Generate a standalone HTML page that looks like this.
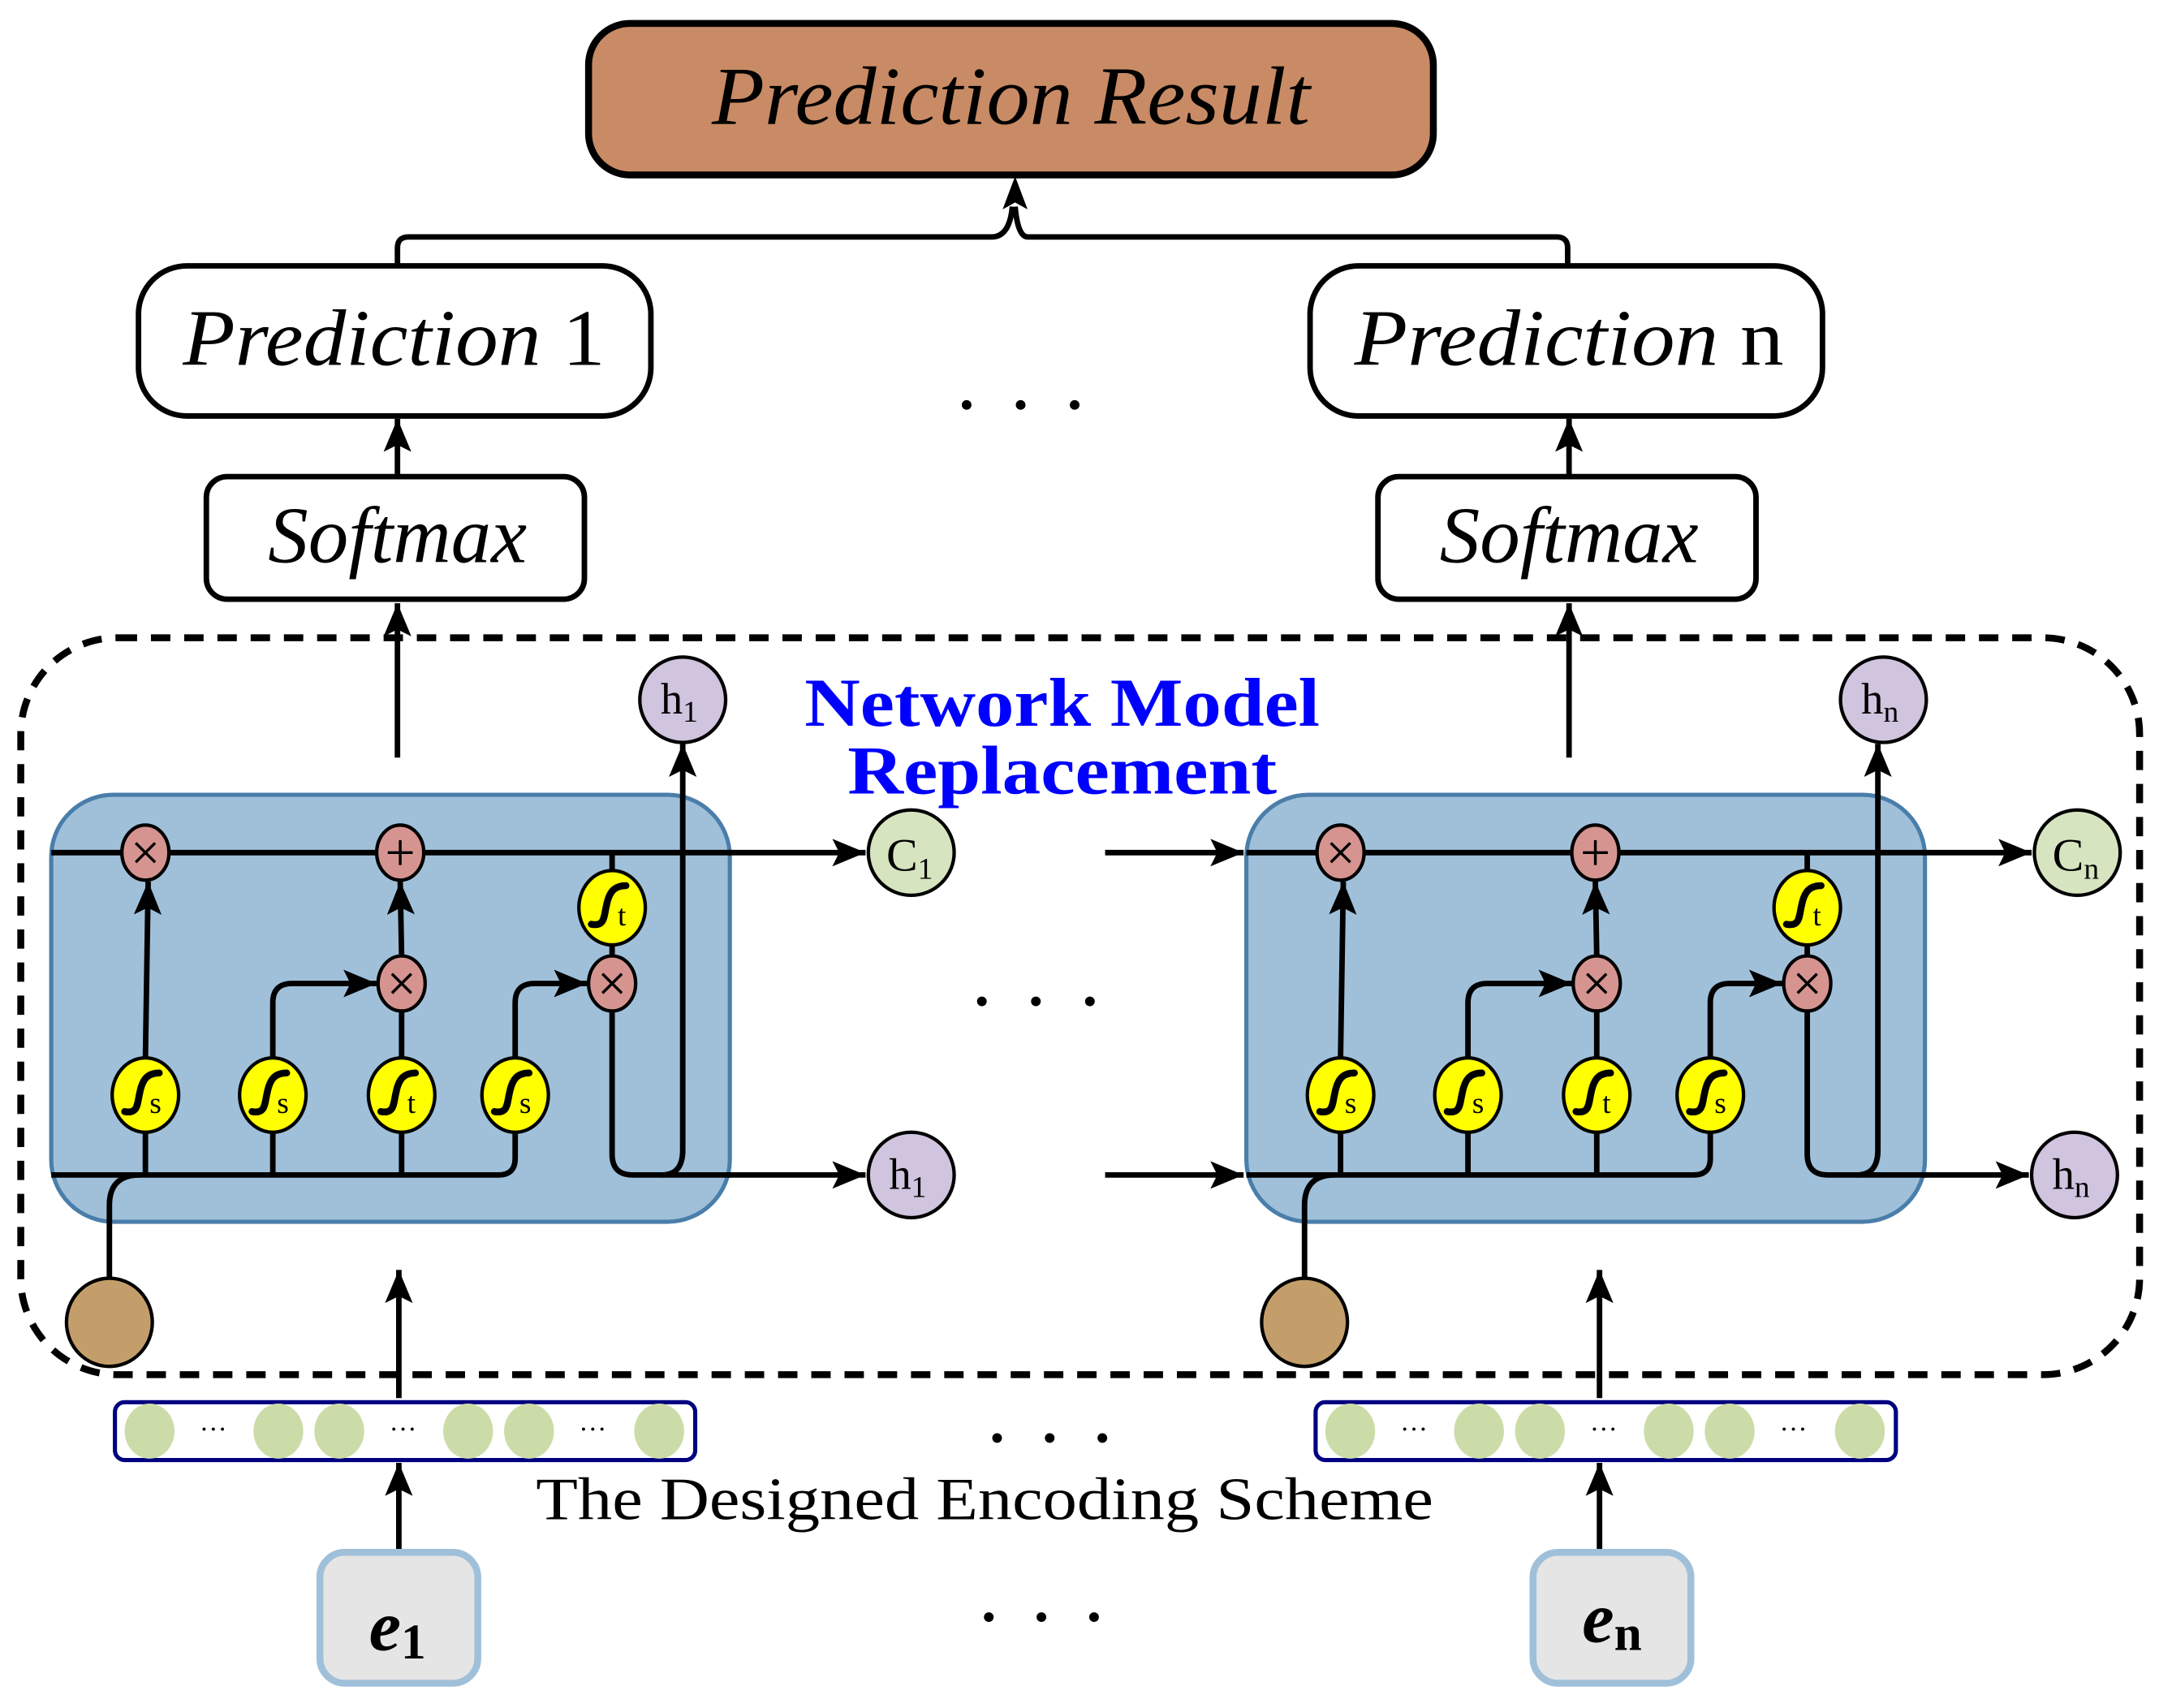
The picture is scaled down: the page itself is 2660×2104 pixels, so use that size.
<!DOCTYPE html>
<html><head><meta charset="utf-8"><style>
html,body{margin:0;padding:0;background:#fff;}
svg{display:block;}
text{font-family:"Liberation Serif",serif;}
</style></head><body>
<svg width="2660" height="2104" viewBox="0 0 1559 1240" preserveAspectRatio="none" xmlns="http://www.w3.org/2000/svg" font-family="Liberation Serif, serif">
<defs>
<marker id="ar" markerUnits="userSpaceOnUse" markerWidth="30" markerHeight="24" refX="24" refY="10" orient="auto">
<path d="M0,0 L24,10 L0,20 L5,10 Z" fill="#000"/>
</marker>
<g id="sig">
<ellipse cx="0" cy="0" rx="24" ry="27" fill="#ffff00" stroke="#000" stroke-width="2.5"/>
<path d="M-15,12 C-5,14 -6,6 -4,-2 C-2,-12 2,-16 10,-16" fill="none" stroke="#000" stroke-width="5" stroke-linecap="round"/>
</g>
<g id="mul">
<ellipse cx="0" cy="0" rx="17" ry="20" fill="#d69490" stroke="#000" stroke-width="2.5"/>
<path d="M-7,-7 L7,7 M7,-7 L-7,7" stroke="#000" stroke-width="2"/>
</g>
<g id="cell">
<rect x="37" y="577" width="490" height="310" rx="45" fill="#a0c0da" stroke="#4a7eaa" stroke-width="3"/>
<g fill="none" stroke="#000" stroke-width="4">
<path d="M37,619 H528"/>
<path d="M37,853 H360 Q372,853 372,841 V820"/>
<path d="M79,930 V875 Q79,853 101,853"/>
<path d="M105,853 V770"/><path d="M197,853 V770"/><path d="M290,853 V770"/>
<path d="M105,768 L107,640" marker-end="url(#ar)"/>
<path d="M290,768 V734"/>
<path d="M290,694 L289,640" marker-end="url(#ar)"/>
<path d="M197,768 V728 Q197,714 211,714 H272" marker-end="url(#ar)"/>
<path d="M372,768 V728 Q372,714 386,714 H424" marker-end="url(#ar)"/>
<path d="M442,619 V634"/><path d="M442,684 V696"/>
<path d="M442,734 V838 Q442,853 457,853 H528"/>
<path d="M478,853 Q493,853 493,835 V540" marker-end="url(#ar)"/>
</g>
<use href="#mul" x="105" y="619"/>
<ellipse cx="289" cy="619" rx="17" ry="20" fill="#d69490" stroke="#000" stroke-width="2.5"/>
<path d="M280,619 H298 M289,610 V628" stroke="#000" stroke-width="2"/>
<use href="#mul" x="290" y="714"/>
<use href="#mul" x="442" y="714"/>
<use href="#sig" x="105" y="795"/><text x="108" y="808" font-size="22">s</text>
<use href="#sig" x="197" y="795"/><text x="200" y="808" font-size="22">s</text>
<use href="#sig" x="290" y="795"/><text x="294" y="808" font-size="22">t</text>
<use href="#sig" x="372" y="795"/><text x="375" y="808" font-size="22">s</text>
<use href="#sig" x="442" y="659"/><text x="446" y="672" font-size="22">t</text>
<ellipse cx="79" cy="960" rx="31" ry="32" fill="#c49e6a" stroke="#000" stroke-width="2.5"/>
</g>
<g id="enc">
<path d="M288,1015 V922" stroke="#000" stroke-width="4" marker-end="url(#ar)"/>
<rect x="83" y="1018" width="419" height="42" rx="7" fill="#fff" stroke="#000080" stroke-width="3"/>
<g fill="#ccdca8">
<ellipse cx="108" cy="1039" rx="18" ry="20"/><ellipse cx="201" cy="1039" rx="18" ry="20"/>
<ellipse cx="245" cy="1039" rx="18" ry="20"/><ellipse cx="338" cy="1039" rx="18" ry="20"/>
<ellipse cx="382" cy="1039" rx="18" ry="20"/><ellipse cx="476" cy="1039" rx="18" ry="20"/>
</g>
<text x="154" y="1044" font-size="20" text-anchor="middle">···</text>
<text x="291" y="1044" font-size="20" text-anchor="middle">···</text>
<text x="428" y="1044" font-size="20" text-anchor="middle">···</text>
<path d="M288,1125 V1062" stroke="#000" stroke-width="4" marker-end="url(#ar)"/>
</g>
<g id="pred">
<path d="M287,550 V438" stroke="#000" stroke-width="4" marker-end="url(#ar)"/>
<rect x="149" y="346" width="273" height="89" rx="15" fill="#fff" stroke="#000" stroke-width="4"/>
<path d="M287,345 V304" stroke="#000" stroke-width="4" marker-end="url(#ar)"/>
<rect x="100" y="193" width="370" height="109" rx="35" fill="#fff" stroke="#000" stroke-width="4"/>
</g>
</defs>

<rect x="15" y="463" width="1530" height="535" rx="70" fill="none" stroke="#000" stroke-width="5" stroke-dasharray="14 10"/>

<use href="#cell"/>
<use href="#cell" x="863"/>
<use href="#enc"/>
<use href="#enc" x="867"/>
<use href="#pred"/>
<use href="#pred" x="846"/>

<rect x="231" y="1127" width="114" height="95" rx="18" fill="#e5e5e5" stroke="#a0c0da" stroke-width="5"/>
<rect x="1107" y="1127" width="114" height="95" rx="18" fill="#e5e5e5" stroke="#a0c0da" stroke-width="5"/>

<g stroke="#000" stroke-width="4">
<path d="M526,619 H625" marker-end="url(#ar)"/>
<path d="M526,853 H625" marker-end="url(#ar)"/>
<path d="M1389,619 H1467" marker-end="url(#ar)"/>
<path d="M1389,853 H1465" marker-end="url(#ar)"/>
<path d="M798,619 H898" marker-end="url(#ar)"/>
<path d="M798,853 H898" marker-end="url(#ar)"/>
</g>

<ellipse cx="658" cy="619" rx="31" ry="31" fill="#d6e4c0" stroke="#000" stroke-width="2.5"/>
<text x="640" y="632" font-size="34">C<tspan font-size="22" dy="6">1</tspan></text>
<ellipse cx="658" cy="853" rx="31" ry="31" fill="#d0c4de" stroke="#000" stroke-width="2.5"/>
<text x="642" y="863" font-size="32">h<tspan font-size="22" dy="6">1</tspan></text>
<ellipse cx="493" cy="508" rx="31" ry="31" fill="#d0c4de" stroke="#000" stroke-width="2.5"/>
<text x="477" y="518" font-size="32">h<tspan font-size="22" dy="6">1</tspan></text>

<ellipse cx="1500" cy="619" rx="31" ry="31" fill="#d6e4c0" stroke="#000" stroke-width="2.5"/>
<text x="1482" y="632" font-size="34">C<tspan font-size="22" dy="6">n</tspan></text>
<ellipse cx="1498" cy="853" rx="31" ry="31" fill="#d0c4de" stroke="#000" stroke-width="2.5"/>
<text x="1482" y="863" font-size="32">h<tspan font-size="22" dy="6">n</tspan></text>
<ellipse cx="1360" cy="508" rx="31" ry="31" fill="#d0c4de" stroke="#000" stroke-width="2.5"/>
<text x="1344" y="518" font-size="32">h<tspan font-size="22" dy="6">n</tspan></text>

<text x="287" y="408" font-size="58" font-style="italic" text-anchor="middle">Softmax</text>
<text x="1133" y="408" font-size="58" font-style="italic" text-anchor="middle">Softmax</text>
<text x="132" y="265" font-size="58" textLength="305" lengthAdjust="spacingAndGlyphs"><tspan font-style="italic">Prediction</tspan> 1</text>
<text x="978" y="265" font-size="58" textLength="310" lengthAdjust="spacingAndGlyphs"><tspan font-style="italic">Prediction</tspan> n</text>
<text x="287" y="1198" font-size="52" font-style="italic" font-weight="bold" text-anchor="middle">e<tspan font-size="36" font-style="normal" dy="6">1</tspan></text>
<text x="1164" y="1192" font-size="52" font-style="italic" font-weight="bold" text-anchor="middle">e<tspan font-size="36" font-style="normal" dy="6">n</tspan></text>

<rect x="425" y="17" width="610" height="110" rx="30" fill="#c98b65" stroke="#000" stroke-width="5"/>
<text x="730" y="90" font-size="60" font-style="italic" text-anchor="middle" textLength="432" lengthAdjust="spacingAndGlyphs">Prediction Result</text>
<path d="M287,192 V180 Q287,172 295,172 H716 Q729,172 731,150" fill="none" stroke="#000" stroke-width="4"/>
<path d="M1132,192 V180 Q1132,172 1124,172 H742 Q735,172 733,150" fill="none" stroke="#000" stroke-width="4"/>
<path d="M733,128 L742,152 L733,147 L724,152 Z" fill="#000"/>

<text x="767" y="527" font-size="50" font-weight="bold" fill="#0000ff" text-anchor="middle" textLength="372" lengthAdjust="spacingAndGlyphs">Network Model</text>
<text x="767" y="576" font-size="50" font-weight="bold" fill="#0000ff" text-anchor="middle" textLength="310" lengthAdjust="spacingAndGlyphs">Replacement</text>
<text x="711" y="1103" font-size="44" text-anchor="middle" textLength="648" lengthAdjust="spacingAndGlyphs">The Designed Encoding Scheme</text>

<g fill="#000">
<circle cx="698" cy="294" r="3.5"/><circle cx="737" cy="294" r="3.5"/><circle cx="776" cy="294" r="3.5"/>
<circle cx="709" cy="727" r="3.5"/><circle cx="748" cy="727" r="3.5"/><circle cx="787" cy="727" r="3.5"/>
<circle cx="720" cy="1044" r="3.5"/><circle cx="758" cy="1044" r="3.5"/><circle cx="796" cy="1044" r="3.5"/>
<circle cx="714" cy="1174" r="3.5"/><circle cx="752" cy="1174" r="3.5"/><circle cx="790" cy="1174" r="3.5"/>
</g>
</svg>
</body></html>
